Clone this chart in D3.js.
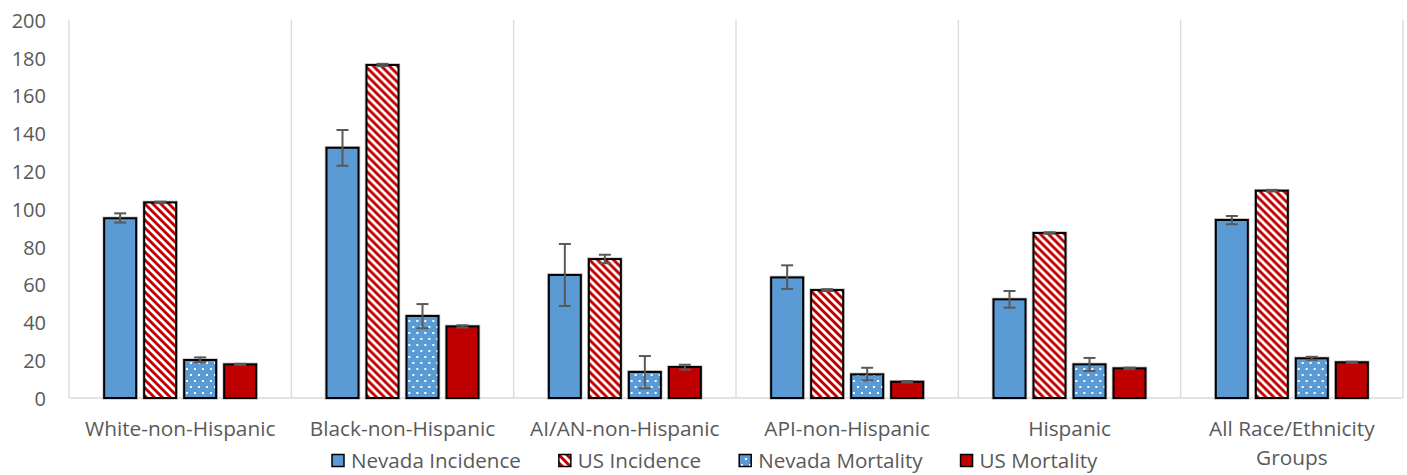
<!DOCTYPE html>
<html>
<head>
<meta charset="utf-8">
<script src="https://cdn.jsdelivr.net/npm/d3@7/dist/d3.min.js"></script>
<style>
  html, body { margin: 0; padding: 0; background: #fff; }
  svg { display: block; }
  text { font-family: "Open Sans", Lato, sans-serif; fill: #595959; }
</style>
</head>
<body>
<svg id="chart" width="1407" height="475"></svg>
<script>
// ---- data ----
const categories = ["White-non-Hispanic", "Black-non-Hispanic", "AI/AN-non-Hispanic", "API-non-Hispanic", "Hispanic", "All Race/Ethnicity Groups"];
const seriesNames = ["Nevada Incidence", "US Incidence", "Nevada Mortality", "US Mortality"];
const yTicks = [0, 20, 40, 60, 80, 100, 120, 140, 160, 180, 200];

const nvInc    = [95.1, 132.4, 65.1, 63.8, 52.2, 94.2];
const nvIncLo  = [92.8, 122.9, 48.7, 57.7, 47.8, 91.9];
const nvIncHi  = [97.7, 141.8, 81.5, 70.2, 56.6, 96.3];
const usInc    = [103.5, 176.2, 73.5, 57.1, 87.3, 109.7];
const usIncLo  = [103.1, 175.6, 71.3, 56.6, 86.9, 109.3];
const usIncHi  = [103.9, 176.8, 75.8, 57.6, 87.7, 110.1];
const nvMort   = [20.1, 43.4, 13.8, 12.5, 17.8, 21.0];
const nvMortLo = [18.9, 36.9, 5.1, 9.3, 14.3, 20.2];
const nvMortHi = [21.5, 49.7, 22.2, 16.0, 21.2, 21.8];
const usMort   = [17.8, 37.9, 16.4, 8.6, 15.7, 18.9];
const usMortLo = [17.5, 37.3, 15.0, 8.2, 15.3, 18.6];
const usMortHi = [18.1, 38.5, 17.6, 9.0, 16.1, 19.2];

const values = [nvInc, usInc, nvMort, usMort];
const lows   = [nvIncLo, usIncLo, nvMortLo, usMortLo];
const highs  = [nvIncHi, usIncHi, nvMortHi, usMortHi];

// ---- layout ----
const svg = d3.select("#chart");
const plot = { left: 69, right: 1403, top: 20, bottom: 398 };
const BLUE = "#5B9BD5", RED = "#C00000", GRID = "#D9D9D9";
const FS_Y = "20px", FS_CAT = "20.8px", FS_LEG = "20.6px";

const defs = svg.append("defs");
// wide downward diagonal (red/white)
const hatch = defs.append("pattern").attr("id", "hatch")
  .attr("patternUnits", "userSpaceOnUse").attr("width", 8).attr("height", 8);
hatch.append("rect").attr("width", 8).attr("height", 8).attr("fill", "#fff");
hatch.append("path").attr("d", "M-2,-2 L10,10 M6,-2 L10,2 M-2,6 L2,10")
  .attr("stroke", RED).attr("stroke-width", 2.9);
// white dots on blue
const dots = defs.append("pattern").attr("id", "dots")
  .attr("patternUnits", "userSpaceOnUse").attr("width", 8).attr("height", 12);
dots.append("rect").attr("width", 8).attr("height", 12).attr("fill", BLUE);
dots.append("rect").attr("x", 1).attr("y", 2).attr("width", 2).attr("height", 2).attr("fill", "#fff");
dots.append("rect").attr("x", 5).attr("y", 8).attr("width", 2).attr("height", 2).attr("fill", "#fff");

const fills = [BLUE, "url(#hatch)", "url(#dots)", RED];

const x0 = d3.scaleBand().domain(categories).range([plot.left, plot.right]).padding(0);
const groupFrac = 152 / 222.33;
const inset = x0.bandwidth() * (1 - groupFrac) / 2;
const x1 = d3.scaleBand().domain(d3.range(seriesNames.length))
  .range([inset, x0.bandwidth() - inset]).paddingInner(0.2).paddingOuter(0);
const y = d3.scaleLinear().domain([0, 200]).range([plot.bottom, plot.top]);

// category separators
const seps = categories.map(c => x0(c)).concat([plot.right]);
svg.append("g").selectAll("line").data(seps).join("line")
  .attr("x1", d => d).attr("x2", d => d)
  .attr("y1", y(200)).attr("y2", y(0))
  .attr("stroke", GRID).attr("stroke-width", 1.3);

// baseline
svg.append("line").attr("x1", plot.left).attr("x2", plot.right)
  .attr("y1", y(0)).attr("y2", y(0)).attr("stroke", GRID).attr("stroke-width", 1.5);

// y axis labels
const yAxis = d3.axisLeft(y).tickValues(yTicks).tickSize(0).tickPadding(0);
const yg = svg.append("g").attr("transform", `translate(${plot.left - 23},0)`).call(yAxis);
yg.select(".domain").remove();
yg.selectAll("text").style("font-size", FS_Y).attr("fill", "#595959")
  .style("font-family", "'Open Sans', Lato, sans-serif").attr("dy", "0.36em");

// bars
const groups = svg.append("g").selectAll("g").data(categories).join("g")
  .attr("transform", d => `translate(${x0(d)},0)`);

groups.each(function (cat, ci) {
  const g = d3.select(this);
  seriesNames.forEach((s, si) => {
    const v = values[si][ci];
    g.append("rect")
      .attr("x", x1(si)).attr("width", x1.bandwidth())
      .attr("y", y(v)).attr("height", y(0) - y(v))
      .attr("fill", "none").attr("stroke", "#c8c8c8").attr("stroke-width", 3.6);
    g.append("rect")
      .attr("x", x1(si)).attr("width", x1.bandwidth())
      .attr("y", y(v)).attr("height", y(0) - y(v))
      .attr("fill", fills[si]).attr("stroke", "#000").attr("stroke-width", 2);
  });
  // error bars
  seriesNames.forEach((s, si) => {
    const cx = x1(si) + x1.bandwidth() / 2;
    const lo = lows[si][ci], hi = highs[si][ci];
    const eb = g.append("g").attr("stroke", "#595959").attr("stroke-width", 2);
    eb.append("line").attr("x1", cx).attr("x2", cx).attr("y1", y(lo)).attr("y2", y(hi));
    eb.append("line").attr("x1", cx - 6).attr("x2", cx + 6).attr("y1", y(lo)).attr("y2", y(lo));
    eb.append("line").attr("x1", cx - 6).attr("x2", cx + 6).attr("y1", y(hi)).attr("y2", y(hi));
  });
});

// category labels
const labelLines = {
  "All Race/Ethnicity Groups": ["All Race/Ethnicity", "Groups"]
};
categories.forEach(c => {
  const lines = labelLines[c] || [c];
  const t = svg.append("text").attr("text-anchor", "middle")
    .attr("x", x0(c) + x0.bandwidth() / 2).attr("y", 436)
    .style("font-size", FS_CAT);
  lines.forEach((ln, i) => {
    t.append("tspan").attr("x", x0(c) + x0.bandwidth() / 2)
      .attr("dy", i === 0 ? 0 : 29).text(ln);
  });
});

// legend
const legend = svg.append("g");
let lx = 332;
const ly = 461;
seriesNames.forEach((s, si) => {
  legend.append("rect").attr("x", lx).attr("y", ly - 6.5).attr("width", 12).attr("height", 12)
    .attr("fill", fills[si]).attr("stroke", "#000").attr("stroke-width", 1.5);
  const t = legend.append("text").attr("x", lx + 19).attr("y", ly).attr("dy", "0.36em")
    .style("font-size", FS_LEG).text(s);
  const w = t.node().getComputedTextLength();
  lx = lx + 19 + w + 38;
});
</script>
</body>
</html>
